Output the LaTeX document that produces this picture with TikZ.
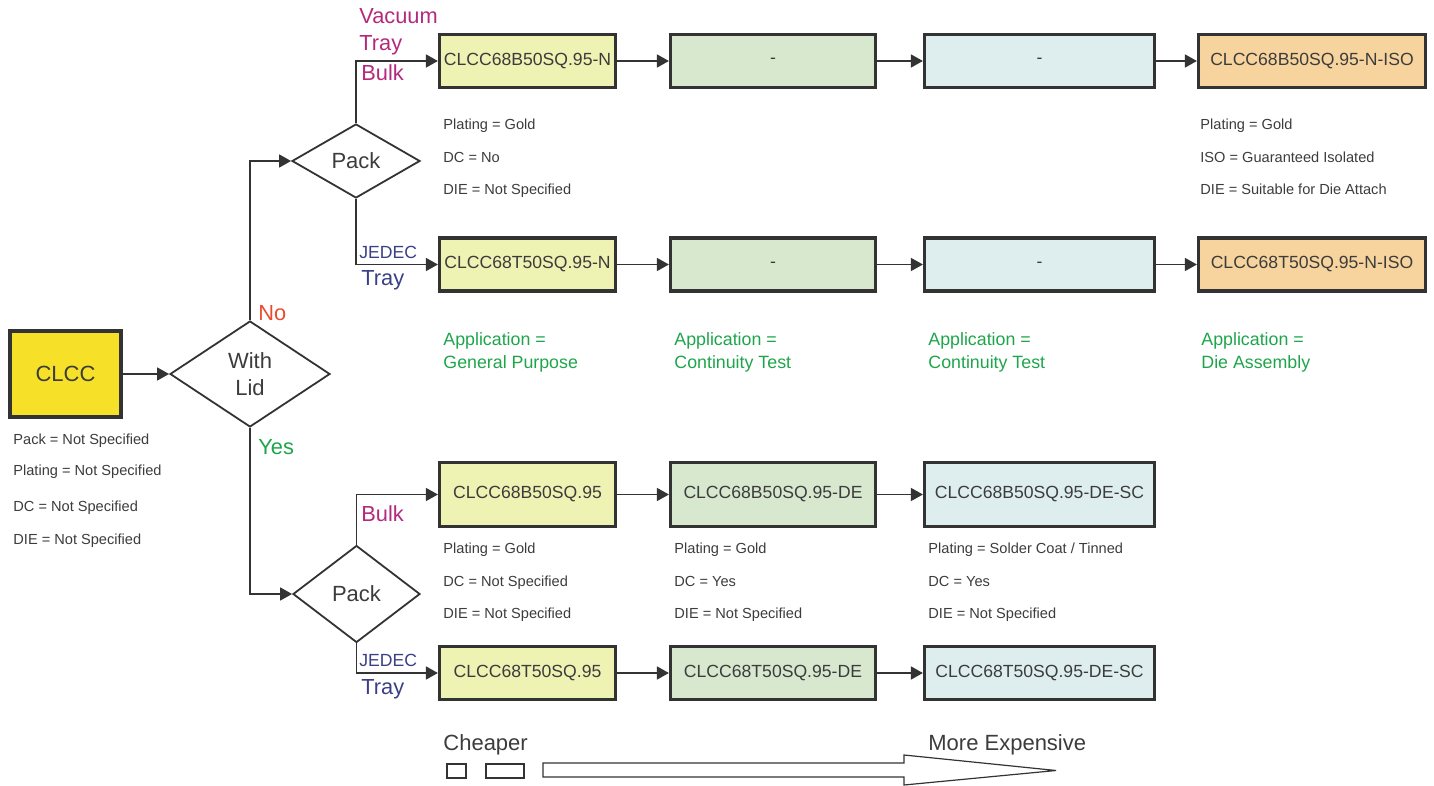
\documentclass[tikz,border=0pt]{standalone}
\usepackage{fontspec}
\setmainfont{Liberation Sans}
\usetikzlibrary{arrows.meta,shapes.geometric}
\definecolor{clccyellow}{HTML}{F6E128}
\definecolor{stdfill}{HTML}{EEF2B2}
\definecolor{defill}{HTML}{D7E8CF}
\definecolor{scfill}{HTML}{DEEEEE}
\definecolor{isofill}{HTML}{F7D49D}
\definecolor{linegray}{HTML}{333333}
\definecolor{textgray}{HTML}{3C3C3C}
\definecolor{bulkpink}{HTML}{B32A7C}
\definecolor{trayblue}{HTML}{3A3F86}
\definecolor{nored}{HTML}{EA4B2E}
\definecolor{appgreen}{HTML}{1EA54B}

\begin{document}
\begin{tikzpicture}[x=0.5pt,y=-0.5pt,
  every node/.style={inner sep=0pt, text=textgray},
  part/.style={draw=linegray, line width=1.6pt, minimum height=26.5pt, font=\fontsize{8.8}{10}\selectfont},
  decision/.style={diamond, draw=linegray, line width=0.9pt, align=center, font=\fontsize{11}{13.5}\selectfont},
  note/.style={anchor=west, text depth=0pt, font=\fontsize{7.3}{9}\selectfont},
  app/.style={anchor=west, align=left, text=appgreen, font=\fontsize{8.9}{11.5}\selectfont},
  choice/.style={anchor=west, align=left, text depth=0pt, font=\fontsize{10.9}{13.5}\selectfont},
  flow/.style={draw=linegray, line width=0.8pt, -{Triangle[length=6pt,width=6.5pt]}}]
\useasboundingbox (0,0) rectangle (1434,786);
\node [draw=linegray, line width=2pt, fill=clccyellow, minimum width=55.5pt, minimum height=43pt, font=\fontsize{11}{13}\selectfont] (clcc) at (65.5,374) {CLCC};
\node [decision, minimum width=80pt, minimum height=53pt] (lid) at (250,374) {With\\Lid};
\node [decision, minimum width=64pt, minimum height=37pt] (pack1) at (356,161) {Pack};
\node [decision, minimum width=63.5pt, minimum height=48.5pt] (pack2) at (356.5,594) {Pack};
\node [part, fill=stdfill, minimum width=88pt] (r1b1) at (527.5,61) {CLCC68B50SQ.95-N};
\node [part, fill=defill, minimum width=102.5pt] (r1b2) at (773,61) {-};
\node [part, fill=scfill, minimum width=115pt] (r1b3) at (1039.5,61) {-};
\node [part, fill=isofill, minimum width=113.5pt] (r1b4) at (1312,61) {CLCC68B50SQ.95-N-ISO};
\node [part, fill=stdfill, minimum width=88pt] (r2b1) at (527.5,264.5) {CLCC68T50SQ.95-N};
\node [part, fill=defill, minimum width=102.5pt] (r2b2) at (773,264.5) {-};
\node [part, fill=scfill, minimum width=115pt] (r2b3) at (1039.5,264.5) {-};
\node [part, fill=isofill, minimum width=113.5pt] (r2b4) at (1312,264.5) {CLCC68T50SQ.95-N-ISO};
\node [part, fill=stdfill, minimum width=88pt, minimum height=32pt] (r3b1) at (527.5,494.5) {CLCC68B50SQ.95};
\node [part, fill=defill, minimum width=102.5pt, minimum height=32pt] (r3b2) at (773,494.5) {CLCC68B50SQ.95-DE};
\node [part, fill=scfill, minimum width=115pt, minimum height=32pt] (r3b3) at (1039.5,494.5) {CLCC68B50SQ.95-DE-SC};
\node [part, fill=stdfill, minimum width=88pt] (r4b1) at (527.5,673) {CLCC68T50SQ.95};
\node [part, fill=defill, minimum width=102.5pt] (r4b2) at (773,673) {CLCC68T50SQ.95-DE};
\node [part, fill=scfill, minimum width=115pt] (r4b3) at (1039.5,673) {CLCC68T50SQ.95-DE-SC};
\draw [flow] (clcc) -- (lid);
\draw [flow] (lid.north) |- (pack1.west);
\draw [flow] (lid.south) |- (pack2.west);
\draw [flow] (pack1.north) |- (r1b1.west);
\draw [flow] (pack1.south) |- (r2b1.west);
\draw [flow] (pack2.north) |- (r3b1.west);
\draw [flow] (pack2.south) |- (r4b1.west);
\draw [flow] (r1b1) -- (r1b2);
\draw [flow] (r1b2) -- (r1b3);
\draw [flow] (r1b3) -- (r1b4);
\draw [flow] (r2b1) -- (r2b2);
\draw [flow] (r2b2) -- (r2b3);
\draw [flow] (r2b3) -- (r2b4);
\draw [flow] (r3b1) -- (r3b2);
\draw [flow] (r3b2) -- (r3b3);
\draw [flow] (r4b1) -- (r4b2);
\draw [flow] (r4b2) -- (r4b3);
\node [choice, text=nored] (no) at (258,313) {No};
\node [choice, text=appgreen] (yes) at (258,447) {Yes};
\node [choice, text=bulkpink] (vacuum) at (359,29.5) {Vacuum\\Tray};
\node [choice, text=bulkpink] (bulk1) at (361,73) {Bulk};
\node [anchor=west, text=trayblue, font=\fontsize{8.8}{10}\selectfont] (jedec1) at (359,252) {JEDEC};
\node [choice, text=trayblue] (tray1) at (361,278) {Tray};
\node [choice, text=bulkpink] (bulk2) at (361,514) {Bulk};
\node [anchor=west, text=trayblue, font=\fontsize{8.8}{10}\selectfont] (jedec2) at (359,660) {JEDEC};
\node [choice, text=trayblue] (tray2) at (361,687) {Tray};
\node [note] (c1) at (13,439) {Pack = Not Specified};
\node [note] (c2) at (13,470) {Plating = Not Specified};
\node [note] (c3) at (13,506) {DC = Not Specified};
\node [note] (c4) at (13,539) {DIE = Not Specified};
\node [note] (n1a) at (443,124) {Plating = Gold};
\node [note] (n1b) at (443,157) {DC = No};
\node [note] (n1c) at (443,189) {DIE = Not Specified};
\node [note] (n4a) at (1200,124) {Plating = Gold};
\node [note] (n4b) at (1200,157) {ISO = Guaranteed Isolated};
\node [note] (n4c) at (1200,189) {DIE = Suitable for Die Attach};
\node [app] (a1) at (443,352.5) {Application =\\General Purpose};
\node [app] (a2) at (674,352.5) {Application =\\Continuity Test};
\node [app] (a3) at (928,352.5) {Application =\\Continuity Test};
\node [app] (a4) at (1201,352.5) {Application =\\Die Assembly};
\node [note] (m1a) at (443,548) {Plating = Gold};
\node [note] (m1b) at (443,581) {DC = Not Specified};
\node [note] (m1c) at (443,613) {DIE = Not Specified};
\node [note] (m2a) at (674,548) {Plating = Gold};
\node [note] (m2b) at (674,581) {DC = Yes};
\node [note] (m2c) at (674,613) {DIE = Not Specified};
\node [note] (m3a) at (928,548) {Plating = Solder Coat / Tinned};
\node [note] (m3b) at (928,581) {DC = Yes};
\node [note] (m3c) at (928,613) {DIE = Not Specified};
\node [anchor=west, text depth=0pt, font=\fontsize{11}{13}\selectfont] (cheap) at (443,743) {Cheaper};
\node [anchor=west, text depth=0pt, font=\fontsize{11}{13}\selectfont] (dear) at (928,743) {More Expensive};
\draw [linegray, line width=0.6pt] (447,764) rectangle (466,778);
\draw [linegray, line width=0.6pt] (486,764) rectangle (524,778);
\draw [linegray, line width=0.6pt] (543,763) -- (904,763) -- (904,755) -- (1056,770.5) -- (904,785) -- (904,777) -- (543,777) -- cycle;
\end{tikzpicture}
\end{document}
